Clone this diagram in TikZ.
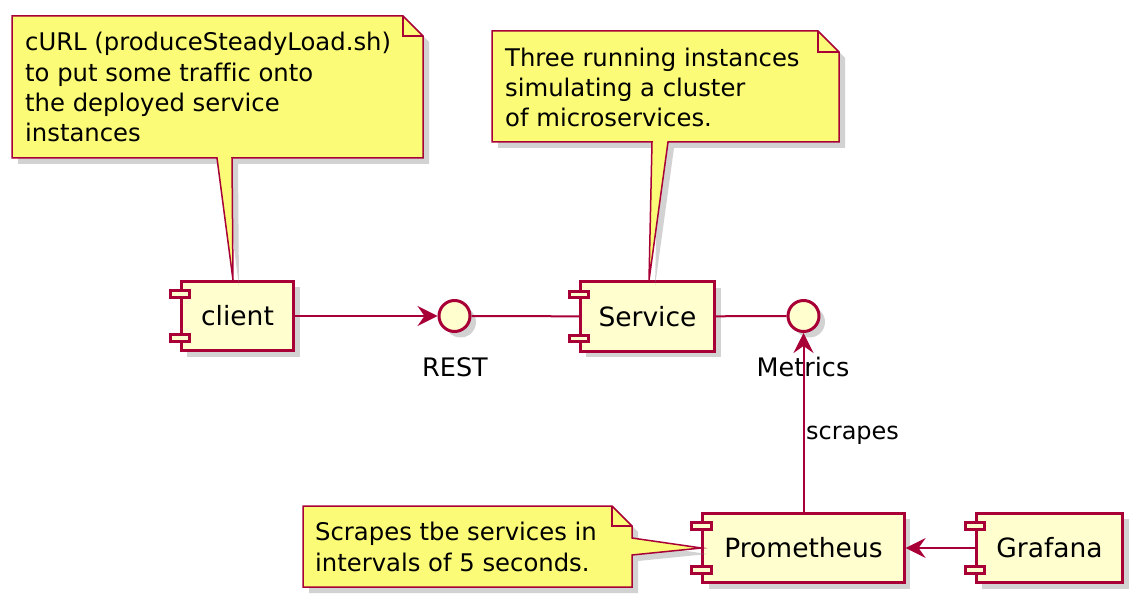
\documentclass[tikz,border=0pt]{standalone}
\usepackage{fontspec}
\setmainfont{DejaVu Sans}[Ligatures=NoCommon]
\usetikzlibrary{arrows.meta, shadows, positioning}
\definecolor{umlred}{HTML}{A80036}
\definecolor{umlfill}{HTML}{FEFECE}
\definecolor{notefill}{HTML}{FBFB77}
\newcommand{\compfont}{\fontsize{26.5}{31}\selectfont}
\newcommand{\notefont}{\fontsize{24.3}{30.3}\selectfont}
\tikzset{
  umlshadow/.style={drop shadow={shadow xshift=6pt, shadow yshift=-6pt, opacity=0.35}},
  comp/.style={rectangle, draw=umlred, fill=umlfill, line width=2.7pt,
    minimum height=69.5pt, inner sep=0pt, font=\compfont, umlshadow},
  port/.style={draw=umlred, fill=umlfill, line width=2.7pt},
  iface/.style={circle, draw=umlred, fill=umlfill, line width=3pt,
    minimum size=31pt, inner sep=0pt, umlshadow},
  note/.style={draw=umlred, fill=notefill, line width=1.5pt, umlshadow},
  notefold/.style={draw=umlred, line width=1.5pt},
  notetext/.style={anchor=base west, align=left, inner sep=0pt, font=\notefont},
  link/.style={draw=umlred, line width=2pt},
  linkarrow/.style={link, -{Stealth[length=20pt, width=20pt, inset=7pt]}},
  lbl/.style={anchor=base, inner sep=0pt, font=\fontsize{25.5}{30}\selectfont},
}
\begin{document}
\begin{tikzpicture}[x=1pt, y=-1pt]
    \useasboundingbox (0,0) rectangle (1143,609);
    \fill[white] (0,0) rectangle (1143,609);

    % components
    \node[comp, minimum width=112.5pt] (client) at (237.5,316) {client};
    \node[comp, minimum width=134.5pt] (service) at (647.5,316.5) {Service};
    \node[comp, minimum width=201.5pt] (prometheus) at (803.5,548) {Prometheus};
    \node[comp, minimum width=146.5pt] (grafana) at (1049.5,548) {Grafana};

    % notes (text anchored on the last line)
    \draw[note] (12,16) -- (403,16) -- (423,36) -- (423,158) -- (232,158)
        -- ([xshift=-4.5pt]client.north) -- (217,158) -- (12,158) -- cycle;
    \draw[notefold] (403,16) -- (403,36) -- (423,36);
    \node[notetext] (curlnote) at (25,141.7) {cURL (produceSteadyLoad.sh)\\to put some traffic onto\\the deployed service\\instances};

    \draw[note] (492,31) -- (818,31) -- (839,52) -- (839,142) -- (668,142)
        -- ([xshift=1.5pt]service.north) -- (652,142) -- (492,142) -- cycle;
    \draw[notefold] (818,31) -- (818,52) -- (839,52);
    \node[notetext] (servicenote) at (505,126.7) {Three running instances\\simulating a cluster\\of microservices.};

    \draw[note] (303,506) -- (612,506) -- (632,526) -- (632,538)
        -- (prometheus.west) -- (632,555) -- (632,587) -- (303,587) -- cycle;
    \draw[notefold] (612,506) -- (612,526) -- (632,526);
    \node[notetext] (scrapenote) at (315,571) {Scrapes tbe services in\\intervals of 5 seconds.};

    % component ports
    \foreach \c in {client,service,prometheus,grafana}
        \foreach \dy in {-22,22}
            \draw[port] ([shift={(-9.75pt,\dy pt-3.25pt)}]\c.west) rectangle ++(19.5pt,6.5pt);

    % interfaces
    \node[iface] (rest) at (454.5,316) {};
    \node[iface] (metrics) at (803.5,316) {};
    \node[lbl] (restlbl) at (455,377) {REST};
    \node[lbl] (metricslbl) at (803,377) {Metrics};

    % links
    \draw[linkarrow] (client) -- (rest);
    \draw[link] (rest) -- (service);
    \draw[link] (service) -- (metrics);
    \draw[linkarrow] (prometheus) -- (metrics);
    \node[lbl, anchor=base west, font=\fontsize{24}{30}\selectfont] (scrapeslbl) at (806,439) {scrapes};
    \draw[linkarrow] (grafana) -- (prometheus);
\end{tikzpicture}
\end{document}
